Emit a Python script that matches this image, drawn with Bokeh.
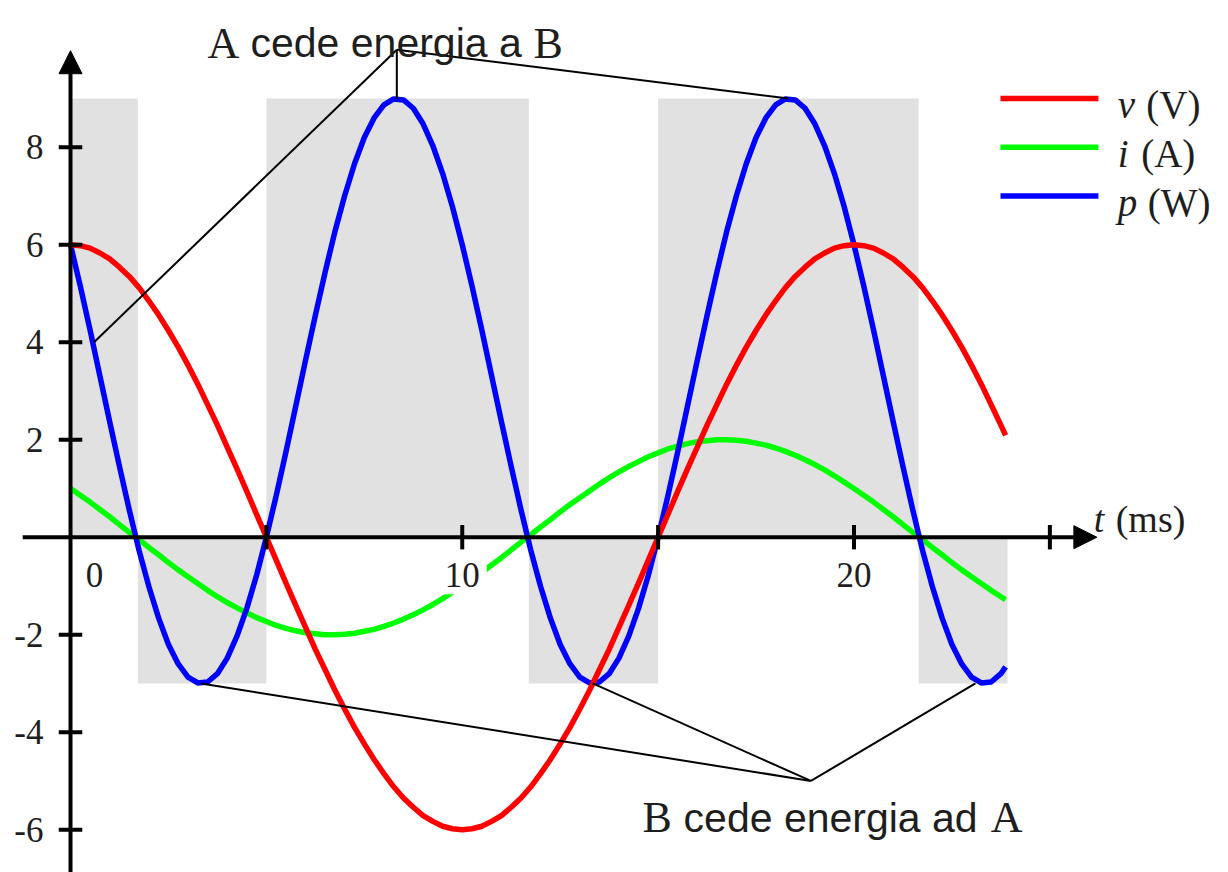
from bokeh.plotting import figure
from bokeh.models import Range1d, Arrow, NormalHead
from bokeh.core.properties import value
from bokeh.embed import file_html
from bokeh.resources import INLINE

# ---- data -------------------------------------------------------------
# sample times (ms)
t_ms = [0, 0.25, 0.5, 0.75, 1, 1.25, 1.5, 1.75,
        2, 2.25, 2.5, 2.75, 3, 3.25, 3.5, 3.75,
        4, 4.25, 4.5, 4.75, 5, 5.25, 5.5, 5.75,
        6, 6.25, 6.5, 6.75, 7, 7.25, 7.5, 7.75,
        8, 8.25, 8.5, 8.75, 9, 9.25, 9.5, 9.75,
        10, 10.25, 10.5, 10.75, 11, 11.25, 11.5, 11.75,
        12, 12.25, 12.5, 12.75, 13, 13.25, 13.5, 13.75,
        14, 14.25, 14.5, 14.75, 15, 15.25, 15.5, 15.75,
        16, 16.25, 16.5, 16.75, 17, 17.25, 17.5, 17.75,
        18, 18.25, 18.5, 18.75, 19, 19.25, 19.5, 19.75,
        20, 20.25, 20.5, 20.75, 21, 21.25, 21.5, 21.75,
        22, 22.25, 22.5, 22.75, 23, 23.25, 23.5, 23.75,
        23.87]

# voltage v (V)
v_volts = [6.00, 5.98, 5.93, 5.83, 5.71, 5.54, 5.35, 5.12, 4.85, 4.56,
           4.24, 3.90, 3.53, 3.14, 2.72, 2.30, 1.85, 1.40, 0.94, 0.47,
           0.00, -0.47, -0.94, -1.40, -1.85, -2.30, -2.72, -3.14, -3.53, -3.90,
           -4.24, -4.56, -4.85, -5.12, -5.35, -5.54, -5.71, -5.83, -5.93, -5.98,
           -6.00, -5.98, -5.93, -5.83, -5.71, -5.54, -5.35, -5.12, -4.85, -4.56,
           -4.24, -3.90, -3.53, -3.14, -2.72, -2.30, -1.85, -1.40, -0.94, -0.47,
           0.00, 0.47, 0.94, 1.40, 1.85, 2.30, 2.72, 3.14, 3.53, 3.90,
           4.24, 4.56, 4.85, 5.12, 5.35, 5.54, 5.71, 5.83, 5.93, 5.98,
           6.00, 5.98, 5.93, 5.83, 5.71, 5.54, 5.35, 5.12, 4.85, 4.56,
           4.24, 3.90, 3.53, 3.14, 2.72, 2.30,
           2.09]

# current i (A)
i_amps = [1.00, 0.86, 0.72, 0.57, 0.42, 0.26, 0.10, -0.05, -0.21, -0.36,
          -0.52, -0.67, -0.81, -0.95, -1.09, -1.22, -1.34, -1.45, -1.55, -1.65,
          -1.73, -1.81, -1.87, -1.92, -1.96, -1.98, -2.00, -2.00, -1.99, -1.97,
          -1.93, -1.89, -1.83, -1.76, -1.68, -1.59, -1.49, -1.38, -1.26, -1.13,
          -1.00, -0.86, -0.72, -0.57, -0.42, -0.26, -0.10, 0.05, 0.21, 0.36,
          0.52, 0.67, 0.81, 0.95, 1.09, 1.22, 1.34, 1.45, 1.55, 1.65,
          1.73, 1.81, 1.87, 1.92, 1.96, 1.98, 2.00, 2.00, 1.99, 1.97,
          1.93, 1.89, 1.83, 1.76, 1.68, 1.59, 1.49, 1.38, 1.26, 1.13,
          1.00, 0.86, 0.72, 0.57, 0.42, 0.26, 0.10, -0.05, -0.21, -0.36,
          -0.52, -0.67, -0.81, -0.95, -1.09, -1.22,
          -1.28]

# instantaneous power p (W)
p_watts = [6.00, 5.15, 4.25, 3.31, 2.37, 1.45, 0.56, -0.27, -1.01, -1.66,
           -2.20, -2.60, -2.87, -2.99, -2.97, -2.80, -2.48, -2.03, -1.46, -0.78,
           0.00, 0.85, 1.75, 2.69, 3.63, 4.55, 5.44, 6.27, 7.01, 7.66,
           8.20, 8.60, 8.87, 8.99, 8.97, 8.80, 8.48, 8.03, 7.46, 6.78,
           6.00, 5.15, 4.25, 3.31, 2.37, 1.45, 0.56, -0.27, -1.01, -1.66,
           -2.20, -2.60, -2.87, -2.99, -2.97, -2.80, -2.48, -2.03, -1.46, -0.78,
           0.00, 0.85, 1.75, 2.69, 3.63, 4.55, 5.44, 6.27, 7.01, 7.66,
           8.20, 8.60, 8.87, 8.99, 8.97, 8.80, 8.48, 8.03, 7.46, 6.78,
           6.00, 5.15, 4.25, 3.31, 2.37, 1.45, 0.56, -0.27, -1.01, -1.66,
           -2.20, -2.60, -2.87, -2.99, -2.97, -2.80,
           -2.66]

# intervals of positive power (up to p max) and negative power (down to p min)
shade_start = [0.0, 1.72, 5.0, 11.7, 15.0, 21.65]
shade_end = [1.72, 5.0, 11.7, 15.0, 21.65, 23.92]
shade_top = [9, 0, 9, 0, 9, 0]
shade_bottom = [0, -3, 0, -3, 0, -3]

# axis ticks
x_ticks = [5, 10, 15, 20, 25]
x_label_values = [0, 10, 20]
y_ticks = [-6, -4, -2, 2, 4, 6, 8]

# points of the power curve that the callouts point at
give_t = [0.6, 8.33, 18.33]
give_p = [4.0, 9.0, 9.0]
take_t = [3.33, 13.33, 23.1]
take_p = [-3.0, -3.0, -3.0]

# legend entries
legend_names = ["v", "i", "p"]
legend_units = ["(V)", "(A)", "(W)"]
legend_colors = ["#ff0000", "#00ff00", "#0000ff"]

# ---- figure -----------------------------------------------------------
SERIF = value("Liberation Serif")
SANS = value("Liberation Sans")
INK = "#1e1e1e"
CURVE_W = 5.5

p = figure(width=1228, height=872,
           x_range=Range1d(-1.787, 29.56), y_range=Range1d(-6.878, 11.01),
           output_backend="svg", toolbar_location=None,
           x_axis_location=None, y_axis_location=None, title_location=None,
           min_border=0, outline_line_color=None,
           background_fill_color="white", border_fill_color="white")
p.grid.visible = False

# energy-flow shading
p.quad(left=shade_start, right=shade_end, top=shade_top, bottom=shade_bottom,
       fill_color="#e1e1e1", line_color=None)

# curves
p.line(t_ms, i_amps, line_color=legend_colors[1], line_width=CURVE_W, line_join="round")
p.line(t_ms, p_watts, line_color=legend_colors[2], line_width=CURVE_W, line_join="round")
p.line(t_ms, v_volts, line_color=legend_colors[0], line_width=CURVE_W, line_join="round")

# x tick labels (white box behind them)
p.text(x=x_label_values, y=[0] * len(x_label_values),
       text=[str(v) for v in x_label_values],
       x_offset=[24 if v == 0 else 0 for v in x_label_values], y_offset=38,
       text_align="center", text_baseline="alphabetic",
       text_font=SERIF, text_font_size="35px", text_color=INK,
       background_fill_color="white", padding=7)

# y tick labels
p.text(x=[0] * len(y_ticks), y=y_ticks, text=[str(v) for v in y_ticks],
       x_offset=-27, text_align="right", text_baseline="middle",
       text_font=SERIF, text_font_size="35px", text_color=INK)

# axes with arrow heads
p.add_layout(Arrow(x_start=-1.22, y_start=0, x_end=26.2, y_end=0,
                   line_width=4, line_color="black",
                   end=NormalHead(size=23, fill_color="black", line_color="black", line_width=1)))
p.add_layout(Arrow(x_start=0, y_start=-7.2, x_end=0, y_end=9.98,
                   line_width=4, line_color="black",
                   end=NormalHead(size=23, fill_color="black", line_color="black", line_width=1)))

# tick marks
p.segment(x0=x_ticks, y0=[-0.25] * len(x_ticks), x1=x_ticks, y1=[0.25] * len(x_ticks),
          line_color="black", line_width=4)
p.segment(x0=[-0.3] * len(y_ticks), y0=y_ticks, x1=[0.3] * len(y_ticks), y1=y_ticks,
          line_color="black", line_width=4)

# axis title
p.text(x=[26.12], y=[0.38], text=["t"], text_font=SERIF, text_font_style="italic",
       text_font_size="38px", text_color=INK, text_baseline="alphabetic")
p.text(x=[26.68], y=[0.38], text=["(ms)"], text_font=SERIF,
       text_font_size="38px", text_color=INK, text_baseline="alphabetic")

# callouts: A gives energy to B
top_apex = (8.33, 10.0)
p.segment(x0=[top_apex[0]] * 3, y0=[top_apex[1]] * 3, x1=give_t, y1=give_p,
          line_color="black", line_width=2)
p.text(x=[3.50], y=[10.13], text=["A"], text_font=SERIF, text_font_size="44px",
       text_color=INK, text_baseline="alphabetic")
p.text(x=[4.595], y=[10.13], text=["cede energia a"], text_font=SANS, text_font_size="41px",
       text_color=INK, text_baseline="alphabetic")
p.text(x=[11.82], y=[10.13], text=["B"], text_font=SERIF, text_font_size="44px",
       text_color=INK, text_baseline="alphabetic")

# callouts: B gives energy to A
bottom_apex = (18.9, -5.0)
p.segment(x0=[bottom_apex[0]] * 3, y0=[bottom_apex[1]] * 3, x1=take_t, y1=take_p,
          line_color="black", line_width=2)
p.text(x=[14.60], y=[-5.75], text=["B"], text_font=SERIF, text_font_size="44px",
       text_color=INK, text_baseline="alphabetic")
p.text(x=[15.65], y=[-5.75], text=["cede energia ad"], text_font=SANS, text_font_size="41px",
       text_color=INK, text_baseline="alphabetic")
p.text(x=[23.49], y=[-5.75], text=["A"], text_font=SERIF, text_font_size="44px",
       text_color=INK, text_baseline="alphabetic")

# legend
legend_rows = [9, 8, 7]
p.segment(x0=[23.74] * 3, y0=legend_rows, x1=[26.24] * 3, y1=legend_rows,
          line_color=legend_colors, line_width=CURVE_W)
p.text(x=[26.73] * 3, y=[r - 0.13 for r in legend_rows], text=legend_names,
       text_font=SERIF, text_font_style="italic", text_font_size="39px",
       text_color=INK, text_baseline="alphabetic")
p.text(x=[27.46, 27.33, 27.50], y=[r - 0.13 for r in legend_rows], text=legend_units,
       text_font=SERIF, text_font_size="39px",
       text_color=INK, text_baseline="alphabetic")

open("out.html", "w").write(file_html(p, INLINE))
